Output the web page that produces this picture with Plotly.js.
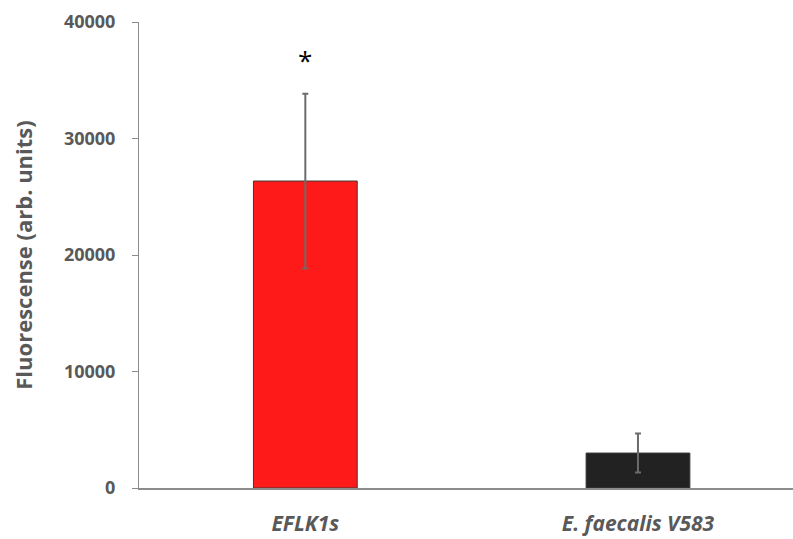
<!DOCTYPE html>
<html>
<head>
<meta charset="utf-8">
<script src="https://cdn.plot.ly/plotly-3.0.1.min.js"></script>
<style>html,body{margin:0;padding:0;background:#fff;}#chart{width:793px;height:539px;}</style>
</head>
<body>
<div id="chart"></div>
<script>
const categories = ["EFLK1s", "E. faecalis V583"];
const tickLabels = ["<i>EFLK1s</i>", "<i>E. faecalis V583</i>"];
const means = [26350, 3000];
const errors = [7500, 1680];
const barColors = ["#ff1a1a", "#222222"];
const significance = ["*", ""];
const yTicks = [0, 10000, 20000, 30000, 40000];

const trace = {
  type: "bar",
  x: categories,
  y: means,
  width: 0.312,
  marker: {color: barColors, line: {color: "#3a3a3a", width: 1}},
  error_y: {type: "data", array: errors, visible: true, color: "#6b6b6b", thickness: 2, width: 3}
};

const annotations = categories.map((c, i) => ({
  x: c, y: means[i] + errors[i] + 2900, text: significance[i], showarrow: false,
  font: {family: "Open Sans, sans-serif", size: 26, color: "#000"}, xanchor: "center", yanchor: "middle"
})).filter(a => a.text);

const layout = {
  width: 793, height: 539,
  margin: {l: 139, r: 0, t: 22, b: 51, pad: 0},
  paper_bgcolor: "#fff", plot_bgcolor: "#fff",
  showlegend: false,
  xaxis: {
    type: "category", range: [-0.5, 1.466], tickvals: categories, ticktext: tickLabels,
    showline: true, linecolor: "#8c8c8c", linewidth: 2, ticks: "", showgrid: false, zeroline: false,
    tickfont: {family: "Open Sans, sans-serif", size: 21, color: "#595959", weight: "bold"},
    ticklabelstandoff: 16
  },
  yaxis: {
    range: [0, 40000], tickvals: yTicks, ticktext: yTicks.map(String),
    showline: true, linecolor: "#8c8c8c", linewidth: 1, ticks: "outside", ticklen: 6, tickcolor: "#8c8c8c",
    showgrid: false, zeroline: false,
    tickfont: {family: "Open Sans, sans-serif", size: 18, color: "#595959", weight: "bold"},
    ticklabelstandoff: 13,
    title: {text: "Fluorescense (arb. units)", standoff: 25,
      font: {family: "Open Sans, sans-serif", size: 22, color: "#595959", weight: "bold"}}
  },
  annotations: annotations
};

Plotly.newPlot("chart", [trace], layout, {displayModeBar: false, staticPlot: true});
</script>
</body>
</html>
